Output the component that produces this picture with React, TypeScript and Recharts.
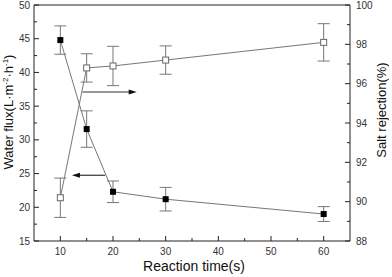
import { ComposedChart, Line, XAxis, YAxis, ErrorBar, ReferenceLine, Label } from "recharts";

const times = [10, 15, 20, 30, 60];
const flux = [44.8, 31.6, 22.3, 21.2, 19.0];
const fluxErr = [2.1, 2.7, 1.6, 1.75, 1.1];
const rejection = [90.2, 96.8, 96.9, 97.2, 98.1];
const rejectionErr = [1.0, 0.72, 1.0, 0.72, 0.95];

const xTicks = [10, 15, 20, 25, 30, 35, 40, 45, 50, 55, 60];
const leftTicks = [15, 17.5, 20, 22.5, 25, 27.5, 30, 32.5, 35, 37.5, 40, 42.5, 45, 47.5, 50];
const rightTicks = [88, 89, 90, 91, 92, 93, 94, 95, 96, 97, 98, 99, 100];

// arrow annotations (data coords, left axis)
const arrowRight = [{ x: 14.2, y: 37.1 }, { x: 24.5, y: 37.1 }];
const arrowLeft = [{ x: 18.5, y: 24.75 }, { x: 12.2, y: 24.75 }];

const data = times.map((t, i) => ({
  t,
  flux: flux[i],
  fluxErr: fluxErr[i],
  rej: rejection[i],
  rejErr: rejectionErr[i],
}));

const FONT = "Liberation Sans, Arial, sans-serif";
const AXIS = "#222";
const LINE = "#777";

const XTick = (props: any) => {
  const { x, y, payload } = props;
  const major = payload.value % 10 === 0;
  return (
    <g>
      <line x1={x} y1={y} x2={x} y2={y - (major ? 5 : 3)} stroke={AXIS} />
      {major && (
        <text x={x} y={y + 14} textAnchor="middle" fontSize={10} fill="#333" fontFamily={FONT}>
          {payload.value}
        </text>
      )}
    </g>
  );
};

const LeftTick = (props: any) => {
  const { x, y, payload } = props;
  const major = payload.value % 5 === 0;
  return (
    <g>
      <line x1={x} y1={y} x2={x + (major ? 5 : 3)} y2={y} stroke={AXIS} />
      {major && (
        <text x={x - 4} y={y + 3.5} textAnchor="end" fontSize={10} fill="#333" fontFamily={FONT}>
          {payload.value}
        </text>
      )}
    </g>
  );
};

const RightTick = (props: any) => {
  const { x, y, payload } = props;
  const major = payload.value % 2 === 0;
  return (
    <g>
      <line x1={x} y1={y} x2={x - (major ? 5 : 3)} y2={y} stroke={AXIS} />
      {major && (
        <text x={x + 6} y={y + 3.5} textAnchor="start" fontSize={10} fill="#333" fontFamily={FONT}>
          {payload.value}
        </text>
      )}
    </g>
  );
};

const FilledSquare = (props: any) => {
  const { cx, cy } = props;
  if (cx == null || cy == null) return null;
  return <rect x={cx - 3} y={cy - 3} width={6} height={6} fill="#000" />;
};

const OpenSquare = (props: any) => {
  const { cx, cy } = props;
  if (cx == null || cy == null) return null;
  return <rect x={cx - 3} y={cy - 3} width={6} height={6} fill="#fff" stroke="#666" strokeWidth={1} />;
};

const Arrow = (props: any) => {
  const { x1, y1, x2, y2 } = props;
  if (x1 == null) return null;
  const dir = x2 > x1 ? 1 : -1;
  return (
    <g>
      <line x1={x1} y1={y1} x2={x2 - dir * 6} y2={y2} stroke="#333" strokeWidth={1.2} />
      <polygon points={`${x2},${y2} ${x2 - dir * 8},${y2 - 2.5} ${x2 - dir * 8},${y2 + 2.5}`} fill="#111" />
    </g>
  );
};

export default function App() {
  return (
    <div style={{ position: "absolute", left: 0, top: 0 }}>
      <ComposedChart width={392} height={277} data={data} margin={{ top: 5, right: 0, bottom: 0, left: 0 }}>
        <XAxis
          dataKey="t"
          type="number"
          domain={[5, 65]}
          ticks={xTicks}
          interval={0}
          tickSize={0}
          tickMargin={0}
          tickLine={false}
          tick={<XTick />}
          height={36}
          stroke={AXIS}
        >
          <Label
            content={() => (
              <text x={194} y={271} textAnchor="middle" fontSize={14} fill="#111" fontFamily={FONT}>
                Reaction time(s)
              </text>
            )}
          />
        </XAxis>
        <YAxis
          yAxisId="left"
          domain={[15, 50]}
          ticks={leftTicks}
          interval={0}
          tickSize={0}
          tickMargin={0}
          tickLine={false}
          tick={<LeftTick />}
          width={34}
          stroke={AXIS}
        >
          <Label
            content={() => (
              <text
                transform="translate(13,112) rotate(-90)"
                textAnchor="middle"
                fontSize={13}
                fill="#111"
                fontFamily={FONT}
              >
                Water flux(L·m
                <tspan fontSize={8} dy={-5}>-2</tspan>
                <tspan dy={5}>·h</tspan>
                <tspan fontSize={8} dy={-5}>-1</tspan>
                <tspan dy={5}>)</tspan>
              </text>
            )}
          />
        </YAxis>
        <YAxis
          yAxisId="right"
          orientation="right"
          domain={[88, 100]}
          ticks={rightTicks}
          interval={0}
          tickSize={0}
          tickMargin={0}
          tickLine={false}
          tick={<RightTick />}
          width={42}
          stroke={AXIS}
        >
          <Label
            content={() => (
              <text
                transform="translate(386,110) rotate(-90)"
                textAnchor="middle"
                fontSize={13}
                fill="#111"
                fontFamily={FONT}
              >
                Salt rejection(%)
              </text>
            )}
          />
        </YAxis>
        <ReferenceLine yAxisId="left" y={50} stroke={AXIS} />
        <Line
          yAxisId="left"
          dataKey="flux"
          stroke={LINE}
          strokeWidth={1}
          dot={<FilledSquare />}
          activeDot={false}
          isAnimationActive={false}
        >
          <ErrorBar dataKey="fluxErr" width={6} stroke={LINE} strokeWidth={1} />
        </Line>
        <Line
          yAxisId="right"
          dataKey="rej"
          stroke={LINE}
          strokeWidth={1}
          dot={<OpenSquare />}
          activeDot={false}
          isAnimationActive={false}
        >
          <ErrorBar dataKey="rejErr" width={6} stroke={LINE} strokeWidth={1} />
        </Line>
        <ReferenceLine yAxisId="left" segment={arrowRight} shape={<Arrow />} />
        <ReferenceLine yAxisId="left" segment={arrowLeft} shape={<Arrow />} />
      </ComposedChart>
    </div>
  );
}
